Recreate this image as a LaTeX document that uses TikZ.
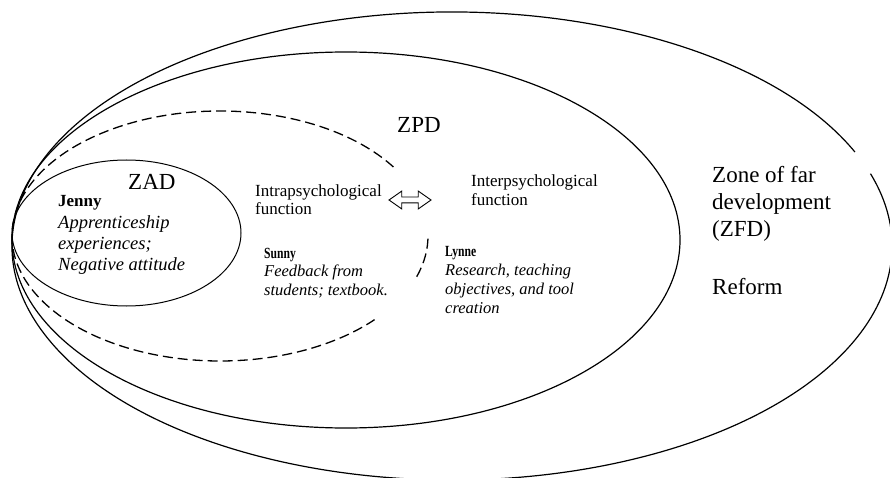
\documentclass[tikz,border=0pt]{standalone}
\usepackage{fontspec}
\setmainfont{Liberation Serif}
\newfontfamily\narrowserif[FakeStretch=0.75]{Liberation Serif}
\usetikzlibrary{shapes.arrows}

\tikzset{
  zone/.style={line width=1.2pt},
  inner zone/.style={line width=1pt},
  border zone/.style={line width=1.3pt, dash pattern=on 10pt off 5pt},
  biglabel/.style={anchor=base west, inner sep=0pt, align=left,
    font=\fontsize{23}{26.5}\selectfont},
  funclabel/.style={anchor=base west, inner sep=0pt, align=left,
    font=\fontsize{17}{18}\selectfont},
  casename/.style={anchor=base west, inner sep=0pt,
    font=\narrowserif\fontsize{15.5}{17}\selectfont\bfseries},
  casetext/.style={anchor=base west, inner sep=0pt, align=left,
    font=\fontsize{16.5}{19}\selectfont\itshape},
  exchange/.style={double arrow, draw, line width=0.9pt, fill=white,
    minimum height=42pt, minimum width=17pt, inner sep=2.5pt,
    double arrow head extend=6pt, double arrow tip angle=70}
}

\begin{document}
\begin{tikzpicture}[x=1pt,y=1pt]
  \useasboundingbox (0,0) rectangle (890,477);
  \clip (0,0) rectangle (890,477);

  % zone of far development (outer ellipse, small break on the right)
  \draw[zone] (452,231) ++(23.7:440 and 234)
    arc[start angle=23.7, end angle=378, x radius=440, y radius=234];

  % zone of proximal development
  \draw[zone] (346,237) ellipse[x radius=334, y radius=188];

  % dashed boundary between intra- and interpsychological function
  \draw[border zone] (220,241) ++(33.5:208 and 125)
    arc[start angle=33.5, end angle=318, x radius=208, y radius=125];
  \draw[border zone] (220,241) ++(-19:208 and 125)
    arc[start angle=-19, end angle=1, x radius=208, y radius=125];

  % zone of actual development
  \draw[inner zone] (126.5,244) ellipse[x radius=114.5, y radius=73];

  % labels of the zones (multi-line nodes sit on their last baseline)
  \node[biglabel] (zad) at (128,287) {ZAD};
  \node[biglabel] (zpd) at (397,344) {ZPD};
  \node[biglabel] (zfd) at (712,241) {Zone of far\\development\\(ZFD)};
  \node[biglabel] (reform) at (712,183) {Reform};

  % functions and the exchange between them
  \node[funclabel] (intra) at (255,262) {Intrapsychological\\function};
  \node[funclabel] (inter) at (471,272) {Interpsychological\\function};
  \node[exchange] (swap) at (410,277) {};

  % cases
  \node[casename, font=\fontsize{17}{19}\selectfont\bfseries] (jenny) at (58,270) {Jenny};
  \node[casetext, font=\fontsize{18.5}{21}\selectfont\itshape] (jennytext) at (58,207)
    {Apprenticeship\\experiences;\\Negative attitude};

  \node[casename] (sunny) at (264,219) {Sunny};
  \node[casetext] (sunnytext) at (264,182) {Feedback from\\students; textbook.};

  \node[casename] (lynne) at (445,221) {Lynne};
  \node[casetext] (lynnetext) at (445,164)
    {Research, teaching\\objectives, and tool\\creation};
\end{tikzpicture}
\end{document}
